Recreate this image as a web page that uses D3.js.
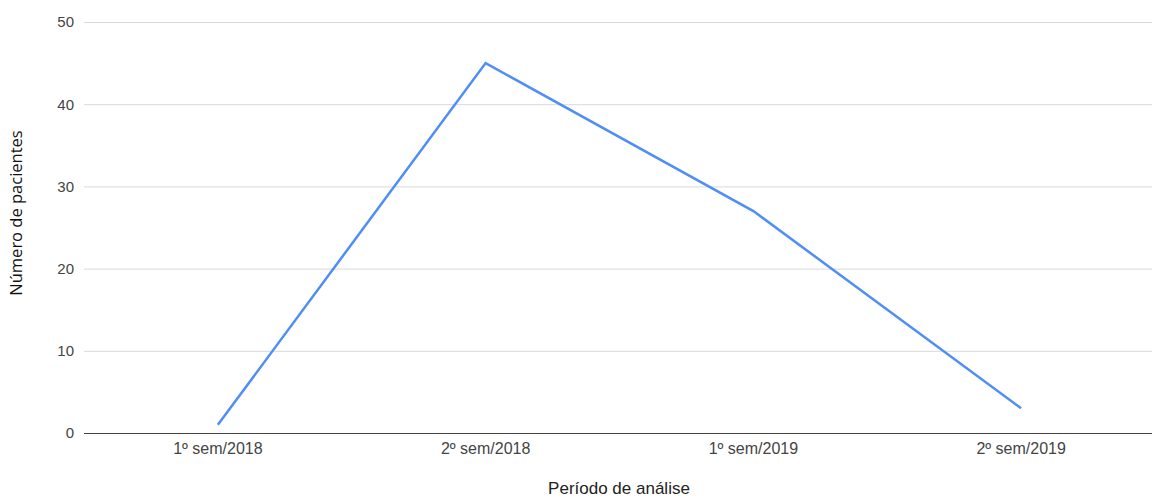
<!DOCTYPE html>
<html>
<head>
<meta charset="utf-8">
<script src="https://cdn.jsdelivr.net/npm/d3@7"></script>
<style>
  html, body { margin: 0; padding: 0; background: #fff; }
  svg { display: block; }
</style>
</head>
<body>
<svg id="chart" width="1152" height="499"></svg>
<script>
// Patients per analysis period
const categories = ["1º sem/2018", "2º sem/2018", "1º sem/2019", "2º sem/2019"];
const patients = [1, 45, 27, 3];
const yTicks = [0, 10, 20, 30, 40, 50];
const xTitle = "Período de análise";
const yTitle = "Número de pacientes";

const svg = d3.select("#chart");
const W = 1152, H = 499;
const margin = { left: 84, right: -3, top: 22, bottom: 66 };

const x = d3.scaleBand()
  .domain(categories)
  .range([margin.left, W - margin.right])
  .paddingInner(0).paddingOuter(0);

const y = d3.scaleLinear()
  .domain([0, 50])
  .range([H - margin.bottom, margin.top]);

// Horizontal gridlines
svg.append("g")
  .selectAll("line")
  .data(yTicks.filter(d => d !== 0))
  .join("line")
  .attr("x1", margin.left)
  .attr("x2", W)
  .attr("y1", d => y(d) + 0.5)
  .attr("y2", d => y(d) + 0.5)
  .attr("stroke", "#d9d9d9")
  .attr("stroke-width", 1);

// Y axis labels
const yAxis = d3.axisLeft(y).tickValues(yTicks).tickSize(0).tickPadding(10);
svg.append("g")
  .attr("transform", `translate(${margin.left},0)`)
  .call(yAxis)
  .call(g => g.select(".domain").remove())
  .selectAll("text")
  .attr("font-family", "Liberation Sans, Arial, sans-serif")
  .attr("font-size", 15)
  .attr("fill", "#444");

// Baseline
svg.append("line")
  .attr("x1", margin.left)
  .attr("x2", W)
  .attr("y1", y(0) + 0.5)
  .attr("y2", y(0) + 0.5)
  .attr("stroke", "#444")
  .attr("stroke-width", 1.2);

// X axis labels
const xAxis = d3.axisBottom(x).tickSize(0).tickPadding(10);
svg.append("g")
  .attr("transform", `translate(0,${y(0)})`)
  .call(xAxis)
  .call(g => g.select(".domain").remove())
  .selectAll("text")
  .attr("font-family", "Liberation Sans, Arial, sans-serif")
  .attr("font-size", 16)
  .attr("fill", "#444");

// Data line
const line = d3.line()
  .x((d, i) => x(categories[i]) + x.bandwidth() / 2)
  .y(d => y(d));

svg.append("path")
  .datum(patients)
  .attr("d", line)
  .attr("fill", "none")
  .attr("stroke", "#4f8ef5")
  .attr("stroke-width", 2.5)
  .attr("stroke-linejoin", "miter");

// Axis titles
svg.append("text")
  .attr("x", 619)
  .attr("y", 494)
  .attr("text-anchor", "middle")
  .attr("font-family", "Liberation Sans, Arial, sans-serif")
  .attr("font-size", 17)
  .attr("fill", "#222")
  .text(xTitle);

svg.append("text")
  .attr("transform", "translate(22,213) rotate(-90)")
  .attr("text-anchor", "middle")
  .attr("font-family", "Open Sans, Noto Sans, sans-serif")
  .attr("font-size", 16.5)
  .attr("fill", "#111")
  .text(yTitle);
</script>
</body>
</html>
